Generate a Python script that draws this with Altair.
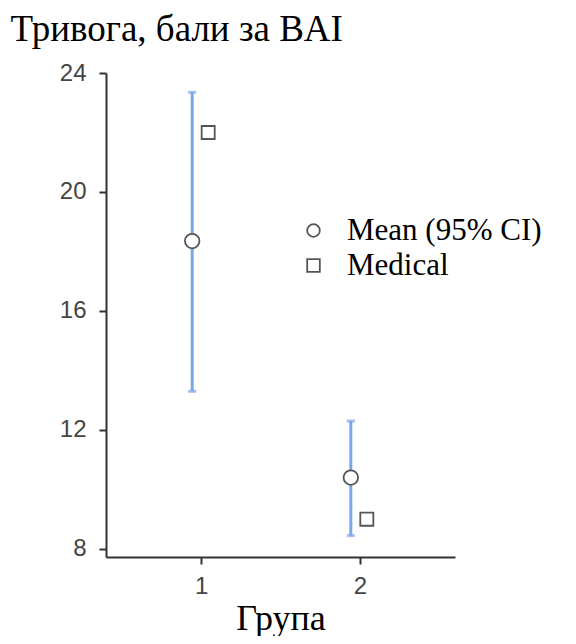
import altair as alt
import pandas as pd

groups = [1, 2]
means = [18.35, 10.4]
ci_low = [13.3, 8.45]
ci_high = [23.35, 12.3]
medical = [22.0, 9.0]
series_names = ["Mean (95% CI)", "Medical"]

df = pd.DataFrame({"group": groups, "mean": means, "lo": ci_low, "hi": ci_high, "medical": medical})
caps = pd.DataFrame({"group": groups + groups, "val": ci_low + ci_high})

BLUE = "#7ba6ea"
GREY = "#555555"

xscale = alt.Scale(domain=[0.4, 2.6], nice=False, zero=False)
yscale = alt.Scale(domain=[7.73, 24], nice=False, zero=False)

xaxis = alt.Axis(values=[1, 2], title="Група", grid=False, titleFont="Liberation Serif",
                 titleFontSize=36, titleFontWeight="normal", titleColor="black",
                 titleY=72, titleBaseline="alphabetic",
                 labelFont="Liberation Sans", labelFontSize=24, labelColor="#444",
                 labelPadding=10, tickSize=7, format="d")
yaxis = alt.Axis(values=[8, 12, 16, 20, 24], title="Тривога, бали за BAI", grid=False,
                 titleFont="Liberation Serif", titleFontSize=37, titleFontWeight="normal",
                 titleColor="black", titleAngle=0, titleAlign="left", titleBaseline="alphabetic",
                 titleX=-96, titleY=-33,
                 labelFont="Liberation Sans", labelFontSize=24, labelColor="#444",
                 labelPadding=13, tickSize=7)

shape_scale = alt.Scale(domain=series_names, range=["circle", "square"])
shape_legend = alt.Legend(title=None, orient="none", legendX=192, legendY=142,
                          labelFont="Liberation Serif", labelFontSize=31,
                          labelColor="black", labelLimit=400, symbolSize=160,
                          symbolStrokeColor=GREY, symbolStrokeWidth=1.8,
                          labelOffset=18, rowPadding=3)

bars = alt.Chart(df).mark_rule(color=BLUE, strokeWidth=3).encode(
    x=alt.X("group:Q", scale=xscale, axis=xaxis),
    y=alt.Y("lo:Q", scale=yscale, axis=yaxis),
    y2="hi:Q",
    xOffset=alt.value(-9),
)

capmarks = alt.Chart(caps).mark_tick(color=BLUE, orient="horizontal", size=8, thickness=3).encode(
    x=alt.X("group:Q", scale=xscale),
    y=alt.Y("val:Q", scale=yscale),
    xOffset=alt.value(-9),
)

# white backing discs so the error bar does not show through the open symbols
mean_bg = alt.Chart(df).mark_point(filled=True, color="white", opacity=1, shape="circle", size=210).encode(
    x=alt.X("group:Q", scale=xscale),
    y=alt.Y("mean:Q", scale=yscale),
    xOffset=alt.value(-9),
)

mean_pts = alt.Chart(df).transform_calculate(s=f"'{series_names[0]}'").mark_point(
    filled=False, color=GREY, strokeWidth=1.8, size=210, opacity=1).encode(
    x=alt.X("group:Q", scale=xscale),
    y=alt.Y("mean:Q", scale=yscale),
    shape=alt.Shape("s:N", scale=shape_scale, legend=shape_legend),
    xOffset=alt.value(-9),
)

med_pts = alt.Chart(df).transform_calculate(s=f"'{series_names[1]}'").mark_point(
    filled=False, color=GREY, strokeWidth=1.8, size=170, opacity=1).encode(
    x=alt.X("group:Q", scale=xscale),
    y=alt.Y("medical:Q", scale=yscale),
    shape=alt.Shape("s:N", scale=shape_scale, legend=shape_legend),
    xOffset=alt.value(7),
)

chart = alt.layer(bars, capmarks, mean_bg, mean_pts, med_pts).properties(
    width=349, height=484,
    autosize=alt.AutoSizeParams(type="none"),
    padding={"left": 98, "top": 65, "right": 113, "bottom": 79},
).configure_view(stroke=None).configure_axis(
    domainColor="#333", domainWidth=2, tickColor="#333", tickWidth=2,
)

chart.save("out.html", embed_options={"renderer": "svg", "actions": False})
